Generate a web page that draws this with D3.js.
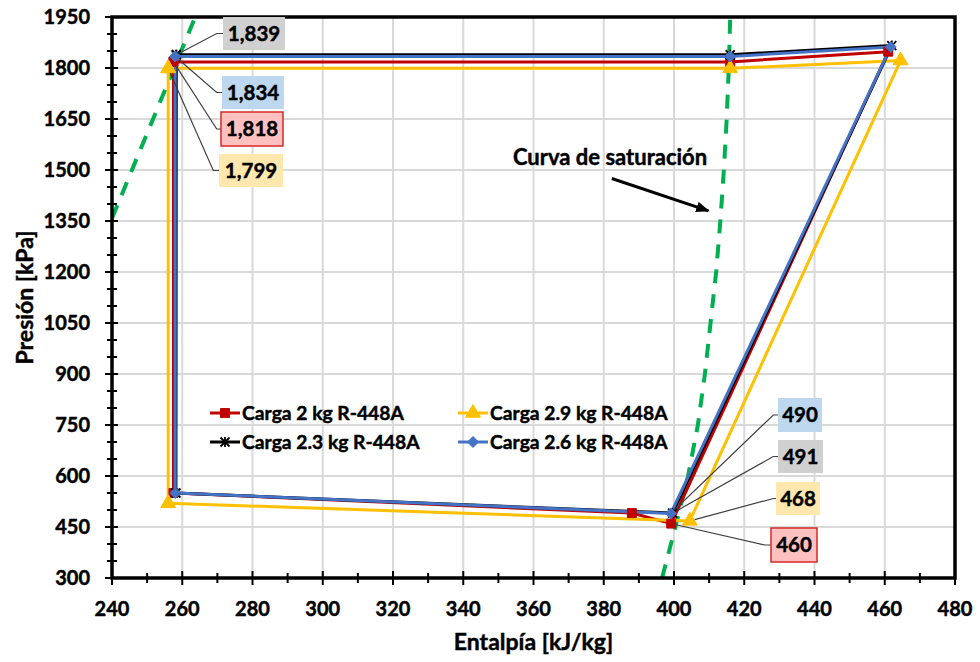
<!DOCTYPE html>
<html>
<head>
<meta charset="utf-8">
<script src="https://cdn.jsdelivr.net/npm/d3@7"></script>
<style>
  body { margin: 0; background: #fff; }
  text { font-family: Lato, "Open Sans", sans-serif; font-weight: 700; fill: #000;
         stroke: #000; stroke-width: 0.45px; paint-order: stroke; }
</style>
</head>
<body>
<svg id="chart" width="980" height="662"></svg>
<script>
// ---- Data: refrigeration cycle per refrigerant charge (enthalpy kJ/kg, pressure kPa) ----
const seriesNames = ["Carga 2 kg R-448A", "Carga 2.9 kg R-448A", "Carga 2.3 kg R-448A", "Carga 2.6 kg R-448A"];

const enthalpy2kg  = [257.5, 416, 461.0, 399.2, 388, 257.5, 257.5];
const pressure2kg  = [1818, 1818, 1848, 460, 491, 550, 1818];

const enthalpy29kg = [256, 416, 464.5, 404.5, 256, 256];
const pressure29kg = [1799, 1799, 1822, 468, 520, 1799];

const enthalpy23kg = [258.3, 416, 462.0, 399.6, 258.2, 258.3];
const pressure23kg = [1839, 1839, 1866, 491, 550, 1839];

const enthalpy26kg = [258, 416, 461.7, 399.1, 258, 258];
const pressure26kg = [1834, 1834, 1862, 490, 550, 1834];

// Saturation curve (liquid and vapour branches)
const satLiquidH = [240, 263.7];
const satLiquidP = [1358, 1950];
const satVaporP  = [300, 450, 600, 750, 900, 1050, 1200, 1350, 1500, 1650, 1800, 1950];
const satVaporH  = [396.6, 400.4, 404.0, 406.8, 408.8, 410.4, 412.0, 413.2, 414.2, 415.0, 415.6, 416.0];

// Axis ticks
const xTicks = [240, 260, 280, 300, 320, 340, 360, 380, 400, 420, 440, 460, 480];
const yTicks = [300, 450, 600, 750, 900, 1050, 1200, 1350, 1500, 1650, 1800, 1950];

// ---- Styling / layout ----
const W = 980, H = 662;
const margin = { left: 112, right: 25, top: 17, bottom: 84 };
const plotW = W - margin.left - margin.right;
const plotH = H - margin.top - margin.bottom;

const seriesStyles = [
  { color: "#C00000", marker: "square" },
  { color: "#FFC000", marker: "triangle" },
  { color: "#000000", marker: "star" },
  { color: "#4472C4", marker: "diamond" }
];

const series = [
  { h: enthalpy2kg,  p: pressure2kg },
  { h: enthalpy29kg, p: pressure29kg },
  { h: enthalpy23kg, p: pressure23kg },
  { h: enthalpy26kg, p: pressure26kg }
].map((s, i) => ({
  name: seriesNames[i],
  style: seriesStyles[i],
  pts: s.h.map((h, j) => ({ h, p: s.p[j] }))
}));

const svg = d3.select("#chart");
const g = svg.append("g").attr("transform", `translate(${margin.left},${margin.top})`);

const x = d3.scaleLinear().domain([240, 480]).range([0, plotW]);
const y = d3.scaleLinear().domain([300, 1950]).range([plotH, 0]);

// Gridlines
g.append("g").selectAll("line").data(xTicks.slice(1, -1)).join("line")
  .attr("x1", d => x(d)).attr("x2", d => x(d)).attr("y1", 0).attr("y2", plotH)
  .attr("stroke", "#D9D9D9").attr("stroke-width", 2);
g.append("g").selectAll("line").data(yTicks.slice(1, -1)).join("line")
  .attr("y1", d => y(d)).attr("y2", d => y(d)).attr("x1", 0).attr("x2", plotW)
  .attr("stroke", "#D9D9D9").attr("stroke-width", 2);

// Clip region for plotted content
const defs = svg.append("defs");
defs.append("clipPath").attr("id", "plotClip")
  .append("rect").attr("x", 0).attr("y", 0).attr("width", plotW).attr("height", plotH);

const plot = g.append("g").attr("clip-path", "url(#plotClip)");

// Saturation curve (green dashed)
const satLine = d3.line().x(d => x(d.h)).y(d => y(d.p));
const satLiquid = satLiquidH.map((h, i) => ({ h, p: satLiquidP[i] }));
const satVapor = satVaporH.map((h, i) => ({ h, p: satVaporP[i] }));
[satLiquid, satVapor].forEach(d => {
  plot.append("path").datum(d).attr("d", satLine)
    .attr("fill", "none").attr("stroke", "#00B050").attr("stroke-width", 4)
    .attr("stroke-dasharray", "14 11");
});

// Marker shapes
function drawMarker(sel, type, color) {
  if (type === "square") {
    sel.append("path").attr("d", d3.symbol(d3.symbolSquare, 80)())
      .attr("fill", color).attr("stroke", color);
  } else if (type === "triangle") {
    sel.append("path").attr("d", d3.symbol(d3.symbolTriangle, 95)())
      .attr("fill", color).attr("stroke", color);
  } else if (type === "diamond") {
    sel.append("path").attr("d", "M0,-5.5L5.5,0L0,5.5L-5.5,0Z")
      .attr("fill", color).attr("stroke", color);
  } else if (type === "star") {
    sel.append("path").attr("d", "M-4.5,-4.5L4.5,4.5M-4.5,4.5L4.5,-4.5M0,-5L0,5")
      .attr("fill", "none").attr("stroke", color).attr("stroke-width", 1.8);
  }
}

// Cycle lines and markers
const cycleLine = d3.line().x(d => x(d.h)).y(d => y(d.p));
series.forEach(s => {
  plot.append("path").datum(s.pts).attr("d", cycleLine)
    .attr("fill", "none").attr("stroke", s.style.color).attr("stroke-width", 3)
    .attr("stroke-linejoin", "round");
});
series.forEach(s => {
  s.pts.forEach(pt => {
    const m = plot.append("g").attr("transform", `translate(${x(pt.h)},${y(pt.p)})`);
    drawMarker(m, s.style.marker, s.style.color);
  });
});

// Plot frame
g.append("rect").attr("x", 0).attr("y", 0).attr("width", plotW).attr("height", plotH)
  .attr("fill", "none").attr("stroke", "#000").attr("stroke-width", 3.5);

// Axis ticks (crossing the axis line)
const xMinor = d3.range(240, 481, 10);
const yMinor = d3.range(300, 1951, 50);
g.append("g").selectAll("line").data(xMinor).join("line")
  .attr("x1", d => x(d)).attr("x2", d => x(d))
  .attr("y1", d => plotH - (d % 20 === 0 ? 7 : 5)).attr("y2", d => plotH + (d % 20 === 0 ? 7 : 5))
  .attr("stroke", "#000").attr("stroke-width", 2);
g.append("g").selectAll("line").data(yMinor).join("line")
  .attr("y1", d => y(d)).attr("y2", d => y(d))
  .attr("x1", d => (d % 150 === 0 ? -7 : -5)).attr("x2", d => (d % 150 === 0 ? 6 : 5))
  .attr("stroke", "#000").attr("stroke-width", 2);

// Tick labels
g.append("g").selectAll("text").data(xTicks).join("text")
  .attr("x", d => x(d)).attr("y", plotH + 38).attr("text-anchor", "middle")
  .attr("font-size", 20).text(d => d);
g.append("g").selectAll("text").data(yTicks).join("text")
  .attr("x", -22).attr("y", d => y(d) + 7).attr("text-anchor", "end")
  .attr("font-size", 20).text(d => d);

// Axis titles
g.append("text").attr("x", plotW / 2).attr("y", plotH + 72).attr("text-anchor", "middle")
  .attr("font-size", 23).text("Entalpía [kJ/kg]");
g.append("text").attr("transform", `translate(${-79},${plotH / 2}) rotate(-90)`)
  .attr("text-anchor", "middle").attr("font-size", 23).text("Presión [kPa]");

// Legend
const legendPos = [[98, 396], [346, 396], [98, 425], [346, 425]];
series.forEach((s, i) => {
  const lg = g.append("g").attr("transform", `translate(${legendPos[i][0]},${legendPos[i][1]})`);
  lg.append("line").attr("x1", 0).attr("x2", 30).attr("stroke", s.style.color).attr("stroke-width", 3);
  drawMarker(lg.append("g").attr("transform", "translate(15,0)"), s.style.marker, s.style.color);
  lg.append("text").attr("x", 32).attr("y", 7).attr("font-size", 19.3).text(s.name);
});

// Saturation curve annotation with arrow
defs.append("marker").attr("id", "arrowHead")
  .attr("viewBox", "0 0 10 8").attr("refX", 9).attr("refY", 4)
  .attr("markerWidth", 4.5).attr("markerHeight", 3.6).attr("markerUnits", "strokeWidth")
  .attr("orient", "auto")
  .append("path").attr("d", "M0,0L10,4L0,8Z").attr("fill", "#000");
g.append("line")
  .attr("x1", x(382.3)).attr("y1", y(1475)).attr("x2", x(409.8)).attr("y2", y(1380))
  .attr("stroke", "#000").attr("stroke-width", 3).attr("marker-end", "url(#arrowHead)");
g.append("text").attr("x", x(381.8)).attr("y", y(1475) - 14).attr("text-anchor", "middle")
  .attr("font-size", 22).text("Curva de saturación");

// Value callouts: series index, point index, box and elbow layout
const fmt = d3.format(",.0f");
const callouts = [
  { s: 2, i: 0, bx: 223, by: 17,  bw: 62, bh: 33, ex: 216.7, fill: "#D0D0D0", stroke: "none" },
  { s: 3, i: 0, bx: 222, by: 76,  bw: 62, bh: 33, ex: 216.7, fill: "#BDD7EE", stroke: "none" },
  { s: 0, i: 0, bx: 221, by: 112, bw: 62, bh: 34, ex: 216.7, fill: "#FFC0C0", stroke: "#D42A2A" },
  { s: 1, i: 0, bx: 219, by: 154, bw: 64, bh: 33, ex: 213.3, fill: "#FFE7AE", stroke: "none" },
  { s: 3, i: 3, bx: 778, by: 398, bw: 44, bh: 34, ex: 773.3, fill: "#BDD7EE", stroke: "none" },
  { s: 2, i: 3, bx: 778, by: 440, bw: 45, bh: 33, ex: 773.3, fill: "#D0D0D0", stroke: "none" },
  { s: 1, i: 3, bx: 776, by: 482, bw: 44, bh: 33, ex: 773.3, fill: "#FFE7AE", stroke: "none" },
  { s: 0, i: 3, bx: 771, by: 528, bw: 46, bh: 34, ex: 765,   fill: "#FFC0C0", stroke: "#D42A2A" }
];
const cl = svg.append("g");
callouts.forEach(c => {
  const pt = series[c.s].pts[c.i];
  const px = margin.left + x(pt.h), py = margin.top + y(pt.p);
  const cy = c.by + c.bh / 2;
  const dx = c.ex - px, dy = cy - py, len = Math.hypot(dx, dy);
  const sx = px + dx / len * 5, sy = py + dy / len * 5;
  cl.append("path").attr("d", `M${sx},${sy}L${c.ex},${cy}L${c.bx},${cy}`)
    .attr("fill", "none").attr("stroke", "#404040").attr("stroke-width", 1.2);
  cl.append("rect").attr("x", c.bx).attr("y", c.by).attr("width", c.bw).attr("height", c.bh)
    .attr("fill", c.fill).attr("stroke", c.stroke).attr("stroke-width", 1.5);
  cl.append("text").attr("x", c.bx + c.bw / 2).attr("y", cy + 7).attr("text-anchor", "middle")
    .attr("font-size", 20.5).text(fmt(pt.p));
});
</script>
</body>
</html>
